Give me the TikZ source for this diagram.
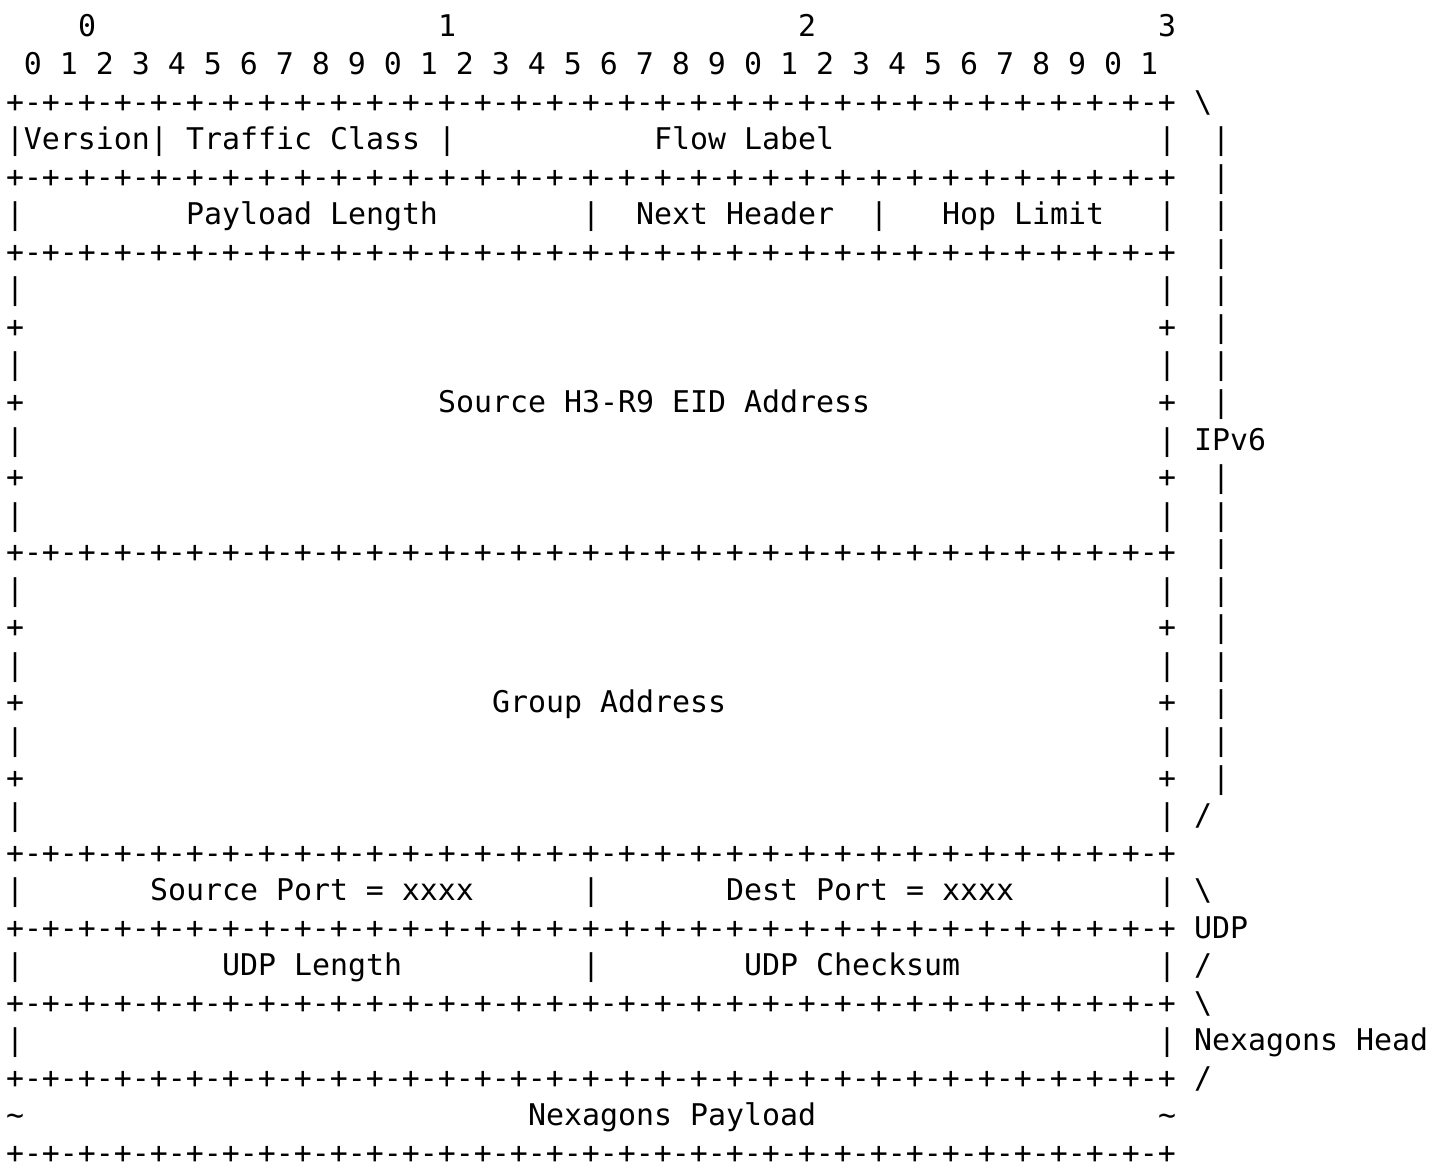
\documentclass[tikz,border=0pt]{standalone}
\usepackage{fontspec}
\newfontfamily\asciifont{DejaVu Sans Mono}
\usetikzlibrary{positioning}

\tikzset{
    ascii/.style={font={\asciifont\fontsize{14.95pt}{18pt}\selectfont},
        anchor=base west, inner sep=0pt, outer sep=0pt},
}
\newcommand{\asciirule}{+-+-+-+-+-+-+-+-+-+-+-+-+-+-+-+-+-+-+-+-+-+-+-+-+-+-+-+-+-+-+-+-+}

\begin{document}
\begin{tikzpicture}[x=9pt, y=-18.775pt]
    \useasboundingbox (0pt,0pt) rectangle (714.5pt,-582.5pt);
    \begin{scope}[shift={(3pt,0.275pt)}]
    % bit ruler
    \foreach \d/\c in {0/4,1/24,2/44,3/64}
        \node [ascii] (oct\d) at (\c,1) {\d};
    \node [ascii] (bits) at (1,2) {0 1 2 3 4 5 6 7 8 9 0 1 2 3 4 5 6 7 8 9 0 1 2 3 4 5 6 7 8 9 0 1};

    % rules and box sides
    \foreach \r in {3,5,7,15,23,25,27,29,31}
        \node [ascii] (rule\r) at (0,\r) {\asciirule};
    \foreach \r in {4,6,...,28} {
        \node [ascii] (lbar\r) at (0,\r) {|};
        \node [ascii] (rbar\r) at (64,\r) {|};
    }
    \foreach \r in {9,11,13,17,19,21} {
        \node [ascii] (lplus\r) at (0,\r) {+};
        \node [ascii] (rplus\r) at (64,\r) {+};
    }

    % IPv6 fields
    \node [ascii] (ver) at (1,4) {Version};
    \node [ascii] (sep4a) at (8,4) {|};
    \node [ascii] (tclass) at (10,4) {Traffic Class};
    \node [ascii] (sep4b) at (24,4) {|};
    \node [ascii] (flow) at (36,4) {Flow Label};
    \node [ascii] (plen) at (10,6) {Payload Length};
    \node [ascii] (sep6a) at (32,6) {|};
    \node [ascii] (nhdr) at (35,6) {Next Header};
    \node [ascii] (sep6b) at (48,6) {|};
    \node [ascii] (hlim) at (52,6) {Hop Limit};
    \node [ascii] (src) at (24,11) {Source H3-R9 EID Address};
    \node [ascii] (grp) at (27,19) {Group Address};

    % UDP fields
    \node [ascii] (sport) at (8,24) {Source Port = xxxx};
    \node [ascii] (sep24) at (32,24) {|};
    \node [ascii] (dport) at (40,24) {Dest Port = xxxx};
    \node [ascii] (ulen) at (12,26) {UDP Length};
    \node [ascii] (sep26) at (32,26) {|};
    \node [ascii] (csum) at (41,26) {UDP Checksum};

    % payload
    \node [ascii] (ltil) at (0,30) {\textasciitilde};
    \node [ascii] (pay) at (29,30) {Nexagons Payload};
    \node [ascii] (rtil) at (64,30) {\textasciitilde};

    % layer brackets
    \foreach \r in {4,...,11,13,14,...,21}
        \node [ascii] (brk\r) at (67,\r) {|};
    \node [ascii] (ipv6top) at (66,3) {\textbackslash};
    \node [ascii] (ipv6) at (66,12) {IPv6};
    \node [ascii] (ipv6bot) at (66,22) {/};
    \node [ascii] (udptop) at (66,24) {\textbackslash};
    \node [ascii] (udp) at (66,25) {UDP};
    \node [ascii] (udpbot) at (66,26) {/};
    \node [ascii] (headtop) at (66,27) {\textbackslash};
    \node [ascii] (head) at (66,28) {Nexagons Head};
    \node [ascii] (headbot) at (66,29) {/};
    \end{scope}
\end{tikzpicture}
\end{document}
